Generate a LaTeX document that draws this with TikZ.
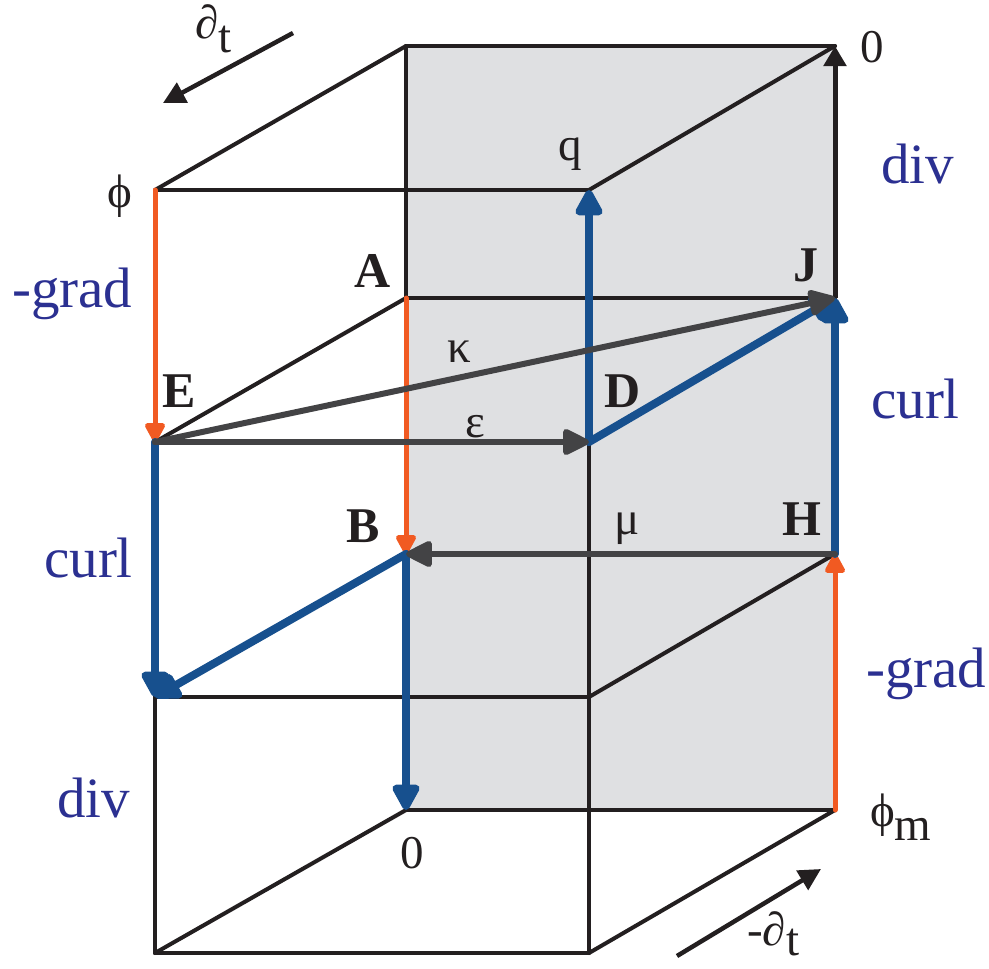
\documentclass[tikz,border=0pt]{standalone}
\usepackage{fontspec}
\setmainfont{Liberation Serif}
\usetikzlibrary{arrows.meta}
\definecolor{cblue}{HTML}{17508E}
\definecolor{corange}{HTML}{F15A22}
\definecolor{cgray}{HTML}{434345}
\definecolor{cnavy}{HTML}{2B3091}
\definecolor{cblack}{HTML}{231F20}
\definecolor{cfill}{HTML}{DFE0E2}
\begin{document}
\begin{tikzpicture}[x=1pt,y=-1pt,
  edge/.style={line width=4pt, draw=cblack, line cap=round, line join=round},
  barr/.style={line width=8pt, draw=cblue, line cap=round, -{Triangle[length=30pt,width=30pt,round]}},
  oarr/.style={line width=5pt, draw=corange, line cap=round, -{Triangle[length=22pt,width=22pt,round]}},
  garr/.style={line width=6pt, draw=cgray, line cap=round, -{Triangle[length=30pt,width=28pt,round]}},
  karr/.style={line width=5pt, draw=cblack, -{Triangle[length=20pt,width=22pt]}},
  darr/.style={line width=4.5pt, draw=cblack, -{Triangle[length=22pt,width=22pt]}},
  opname/.style={text=cnavy, font=\fontsize{57}{60}\selectfont, inner sep=0pt},
  vec/.style={text=cblack, font=\bfseries\fontsize{50}{52}\selectfont, inner sep=0pt},
  sym/.style={text=cblack, font=\fontsize{47}{50}\selectfont, inner sep=0pt}
]
\useasboundingbox (0,0) rectangle (989,969);
% vertices
\coordinate (TBL) at (406,46);
\coordinate (T0) at (835,46);
\coordinate (PHI) at (155,190);
\coordinate (Q) at (589,190);
\coordinate (A) at (406,298);
\coordinate (J) at (835,298);
\coordinate (E) at (155,442);
\coordinate (D) at (589,442);
\coordinate (B) at (406,554);
\coordinate (H) at (835,554);
\coordinate (C) at (155,697);
\coordinate (F) at (589,697);
\coordinate (Z) at (406,810);
\coordinate (PM) at (835,810);
\coordinate (BL) at (155,953);
\coordinate (BF) at (589,953);
\coordinate (dt1) at (293,33);
\coordinate (dt2) at (163,103);
\coordinate (mdt1) at (677,956);
\coordinate (mdt2) at (821,869);
% back face
\fill[cfill] (TBL) rectangle (PM);
% edges
\draw[edge] (TBL) -- (T0);
\draw[edge] (TBL) -- (PHI);
\draw[edge] (PHI) -- (Q);
\draw[edge] (Q) -- (T0);
\draw[edge] (TBL) -- (Z);
\draw[edge] (A) -- (J);
\draw[edge] (E) -- (A);
\draw[edge] (D) -- (BF);
\draw[edge] (C) -- (F);
\draw[edge] (F) -- (H);
\draw[edge] (C) -- (BL);
\draw[edge] (BL) -- (BF);
\draw[edge] (BL) -- (Z);
\draw[edge] (Z) -- (PM);
\draw[edge] (BF) -- (PM);
% arrows
\draw[karr] (J) -- (T0);
\draw[oarr] (PHI) -- (E);
\draw[oarr] (A) -- (B);
\draw[oarr] (PM) -- (H);
\draw[barr] (D) -- (Q);
\draw[barr] (D) -- (J);
\draw[barr] (H) -- (J);
\draw[barr] (E) -- (C);
\draw[barr] (B) -- (C);
\draw[barr] (B) -- (Z);
\draw[garr] (E) -- (D);
\draw[garr] (E) -- (J);
\draw[garr] (H) -- (B);
\draw[darr] (dt1) -- (dt2);
\draw[darr] (mdt1) -- (mdt2);
% labels
\node[opname, anchor=base west] (lg1) at (12,307) {-grad};
\node[opname, anchor=base west] (lg2) at (866,687) {-grad};
\node[opname, anchor=base west] (lc1) at (44,577) {curl};
\node[opname, anchor=base west] (lc2) at (871,418) {curl};
\node[opname, anchor=base west] (ld1) at (881,183) {div};
\node[opname, anchor=base west] (ld2) at (57,817) {div};
\node[vec, anchor=base west] (lE) at (162,407) {E};
\node[vec, anchor=base west] (lA) at (354,287) {A};
\node[vec, anchor=base west] (lD) at (604,407) {D};
\node[vec, anchor=base west] (lJ) at (793,281) {J};
\node[vec, anchor=base west] (lH) at (782,535) {H};
\node[vec, anchor=base west] (lB) at (346,542) {B};
\node[sym, anchor=base] (lq) at (570,160) {q};
\node[sym, anchor=base] (l0a) at (872,62) {0};
\node[sym, anchor=base] (l0b) at (412,868) {0};
\node[sym, anchor=base] (lk) at (459,362) {κ};
\node[sym, anchor=base] (le) at (475,437) {ε};
\node[sym, anchor=base] (lm) at (627,534) {μ};
\node[sym, anchor=base] (lphi) at (120,207) {ϕ};
\node[sym, anchor=base west] (lphim) at (870,826) {ϕ\raisebox{-14pt}{m}};
\node[sym, anchor=base west] (ldt) at (195,38) {∂\raisebox{-14pt}{t}};
\node[sym, anchor=base west] (lmdt) at (747,945) {-∂\raisebox{-10pt}{t}};
\end{tikzpicture}
\end{document}
